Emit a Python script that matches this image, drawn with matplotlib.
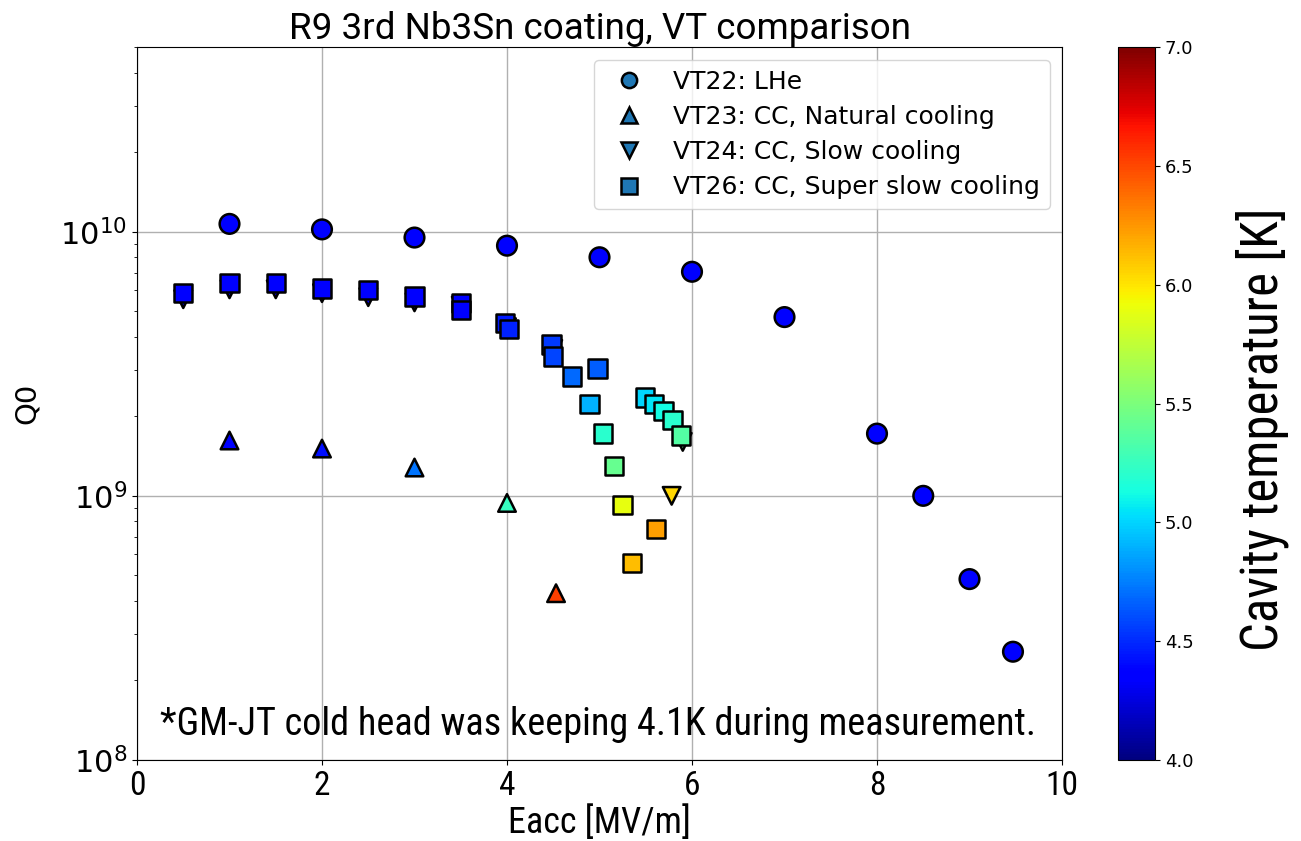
import numpy as np
import matplotlib
matplotlib.use("Agg")
import matplotlib.pyplot as plt
from matplotlib import font_manager as fm
from matplotlib.lines import Line2D

# VT22: LHe
e22 = [1.0, 2.0, 3.0, 4.0, 5.0, 6.0, 7.0, 8.0, 8.5, 9.0, 9.47]
q22 = [1.07e10, 1.02e10, 9.5e9, 8.85e9, 8.0e9, 7.05e9, 4.75e9, 1.72e9, 1.0e9, 4.84e8, 2.57e8]
t22 = [4.33] * 11

# VT23: CC, natural cooling
e23 = [1.0, 2.0, 3.0, 4.0, 4.53]
q23 = [1.62e9, 1.51e9, 1.28e9, 9.4e8, 4.28e8]
t23 = [4.33, 4.42, 4.72, 5.25, 6.53]

# VT24: CC, slow cooling (mostly hidden under VT26)
e24 = [0.5, 1.0, 1.5, 2.0, 2.5, 3.0, 3.5, 4.0, 4.5, 5.78, 5.9]
q24 = [5.55e9, 6.05e9, 6.05e9, 5.85e9, 5.65e9, 5.4e9, 5.25e9, 4.35e9, 3.6e9, 1.0e9, 1.6e9]
t24 = [4.33, 4.33, 4.33, 4.33, 4.33, 4.33, 4.33, 4.45, 4.6, 6.05, 5.4]

# VT26: CC, super slow cooling
e26 = [0.5, 1.0, 1.5, 2.0, 2.5, 3.0, 3.5, 3.5, 3.98, 4.02, 4.48, 4.5, 4.7, 4.98,
       4.89, 5.04, 5.16, 5.25, 5.35, 5.61, 5.49, 5.59, 5.69, 5.79, 5.88]
q26 = [5.85e9, 6.38e9, 6.38e9, 6.1e9, 6.0e9, 5.69e9, 5.36e9, 5.04e9, 4.5e9, 4.27e9,
       3.74e9, 3.37e9, 2.83e9, 3.03e9, 2.23e9, 1.72e9, 1.30e9, 9.25e8, 5.57e8, 7.5e8,
       2.36e9, 2.23e9, 2.10e9, 1.94e9, 1.69e9]
t26 = [4.33] * 8 + [4.45, 4.48, 4.55, 4.58, 4.68, 4.65, 4.9, 5.2, 5.42, 5.89, 6.13,
                    6.22, 5.0, 5.05, 5.12, 5.2, 5.35]

labels = ["VT22: LHe", "VT23: CC, Natural cooling", "VT24: CC, Slow cooling",
          "VT26: CC, Super slow cooling"]

names = {f.name for f in fm.fontManager.ttflist}
narrow = next((n for n in ["Liberation Sans Narrow", "Roboto Condensed", "Open Sans Condensed"]
               if n in names), "Liberation Sans")

plt.rcParams["font.family"] = "DejaVu Sans"
fig = plt.figure(figsize=(13.01, 8.41), dpi=100)
ax = fig.add_axes([0.1053, 0.0963, 0.7110, 0.8478])
cax = fig.add_axes([0.8593, 0.0963, 0.0284, 0.8478])

kw = dict(cmap="jet", vmin=4.0, vmax=7.0, edgecolors="black", linewidths=1.8, zorder=3)
sc = ax.scatter(e22, q22, c=t22, marker="o", s=200, **kw)
ax.scatter(e23, q23, c=t23, marker="^", s=160, **kw)
ax.scatter(e24, q24, c=t24, marker="v", s=160, **kw)
ax.scatter(e26, q26, c=t26, marker="s", s=175, **kw)

ax.set_yscale("log")
ax.set_xlim(0, 10)
ax.set_ylim(1e8, 5e10)
ax.grid(True, color="#b0b0b0", linewidth=1.0)
ax.set_axisbelow(True)
ax.tick_params(axis="y", labelsize=22)
ax.tick_params(axis="x", labelsize=20)
for t in ax.get_xticklabels():
    t.set_fontfamily(narrow)
    t.set_fontsize(24)

ax.set_title("R9 3rd Nb3Sn coating, VT comparison", fontsize=26.5, family="Roboto", pad=5)
ax.set_xlabel("Eacc [MV/m]", fontsize=26, family=narrow, labelpad=2)
ax.set_ylabel("Q0", fontsize=21, labelpad=14)

ax.text(0.025, 0.05, "*GM-JT cold head was keeping 4.1K during measurement.",
        transform=ax.transAxes, fontsize=27.5, family=narrow, va="center", ha="left")

markers = ["o", "^", "v", "s"]
handles = [Line2D([], [], linestyle="none", marker=m, markersize=11, markerfacecolor="#1f77b4",
                  markeredgecolor="black", markeredgewidth=1.8) for m in markers]
ax.legend(handles, labels, loc="upper right", fontsize=18, handletextpad=0.75,
          borderpad=0.4, labelspacing=0.45, framealpha=0.8)

cb = fig.colorbar(sc, cax=cax, ticks=np.arange(4.0, 7.01, 0.5))
cb.ax.tick_params(labelsize=13)
fig.text(1262 / 1301, 1 - 429 / 841, "Cavity temperature [K]", rotation=90,
         fontsize=36.5, family=narrow, ha="center", va="center")

fig.savefig("out.png", dpi=100)
